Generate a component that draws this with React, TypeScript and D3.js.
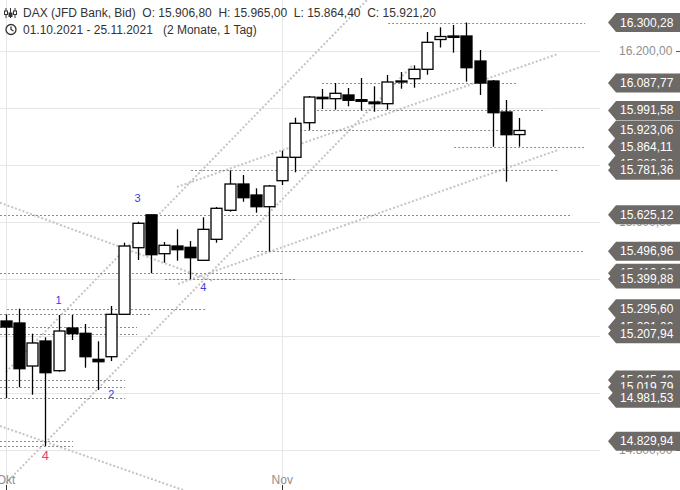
import React, { useEffect, useRef } from 'react';
import * as d3 from 'd3';

// daily candles 01.10.2021 - 25.11.2021 (index 0 = 01.10.)
const opens = [15252.3, 15245.3, 15094.3, 15182.1, 15077.8, 15227.7, 15209.1, 15117.8, 15127.0, 15275.8,
  15509.6, 15625.1, 15488.6, 15515.6, 15511.0, 15465.4, 15539.1, 15641.0, 15733.3, 15694.7,
  15653.6, 15744.9, 15827.0, 15948.5, 16037.7, 16032.8, 16045.8, 16029.3, 16021.2, 16015.2,
  16092.5, 16103.0, 16136.0, 16240.6, 16252.9, 16252.9, 16165.1, 16094.9, 15986.1, 15906.8];
const highs = [15275.7, 15295.6, 15207.9, 15195.1, 15273.4, 15273.4, 15241.8, 15181.0, 15305.0, 15527.2,
  15600.9, 15625.1, 15529.7, 15574.2, 15533.2, 15616.4, 15652.5, 15781.4, 15764.9, 15718.2,
  15729.8, 15850.2, 15966.1, 16042.2, 16066.8, 16087.8, 16070.3, 16105.4, 16076.3, 16116.0,
  16126.5, 16150.0, 16266.9, 16283.4, 16291.5, 16300.3, 16203.8, 16098.4, 16028.2, 15965.0];
const lows = [14981.5, 15019.8, 14993.5, 14813.5, 15074.3, 15185.6, 15088.3, 15010.0, 15111.9, 15275.8,
  15466.5, 15419.8, 15457.0, 15464.0, 15399.9, 15465.4, 15527.2, 15636.0, 15671.1, 15632.5,
  15497.0, 15729.8, 15774.4, 15923.1, 15996.6, 15994.2, 16006.1, 15991.6, 15987.1, 15994.2,
  16067.9, 16071.4, 16117.0, 16212.5, 16194.3, 16092.5, 16045.8, 15864.1, 15741.4, 15864.4];
const closes = [15231.2, 15084.8, 15175.1, 15070.8, 15217.2, 15207.9, 15127.0, 15109.4, 15275.8, 15515.6,
  15595.3, 15485.1, 15518.1, 15502.6, 15474.5, 15574.2, 15648.0, 15733.3, 15685.2, 15653.6,
  15726.3, 15827.0, 15946.4, 16038.7, 16032.8, 16051.7, 16027.2, 16023.6, 16015.2, 16091.4,
  16094.9, 16136.0, 16230.8, 16251.1, 16248.3, 16141.6, 16087.8, 15983.6, 15906.4, 15921.2];

const monthLabels: [string, number][] = [['Okt', 0], ['Nov', 21]];
const gridTicks = [14800, 15000, 15200, 15400, 15600, 15800, 16000, 16200];

// horizontal levels: [value, from index, to index]
const levels: [number, number, number][] = [
  [16300.28, 29.05, 44.03], [16087.77, 24.03, 38.93], [15991.58, 23.04, 41.0], [15923.06, 22.36, 38.33],
  [15864.11, 34.07, 43.95], [15781.36, 14.07, 41.98], [15625.12, -0.46, 43.04], [15496.96, 19.09, 43.95],
  [15419.8, -0.46, 21.06], [15399.88, 12.09, 21.98], [15295.6, 0.08, 15.13], [15275.8, -0.46, 11.1],
  [15231.0, -0.46, 9.96], [15207.94, -0.46, 9.96], [15045.4, -0.46, 9.05], [15019.79, -0.46, 9.05],
  [14981.53, -0.46, 9.05], [14829.94, -0.46, 5.1], [14813.5, -0.46, 5.1],
];

// trend lines: [index1, value1, index2, value2]
const trendLines: [number, number, number, number][] = [
  [0, 15073.2, 27.45, 16379.3],
  [0, 14683.5, 30.94, 16151.1],
  [13.0, 15722.8, 41.96, 16189.7],
  [13.08, 15382.2, 41.96, 15852.7],
  [-0.46, 15667.6, 15.74, 15392.7],
  [-0.46, 14883.6, 13.46, 14659.0],
];

// price tags on the right axis (drawn top to bottom)
const priceTags = [16300.28, 16087.77, 15991.58, 15923.06, 15864.11, 15802.0, 15781.36, 15625.12,
  15496.96, 15419.8, 15399.88, 15295.6, 15231.0, 15207.94, 15045.4, 15019.79, 14981.53, 14829.94];

// wave labels: [text, index, value, pink]
const waveLabels: [string, number, number, boolean][] = [
  ['1', 4, 15326.0, false], ['2', 8, 14996.0, false], ['3', 10, 15685.2, false],
  ['4', 15, 15370.6, false], ['4', 3, 14781.8, true],
];

const App: React.FC = () => {
  const svgRef = useRef<SVGSVGElement>(null);

  useEffect(() => {
    if (!svgRef.current) return;
    const svg = d3.select(svgRef.current);
    svg.selectAll('*').remove();

    const width = 680;
    const height = 490;
    svg.attr('width', width).attr('height', height);
    const font = '"Liberation Sans", Arial, sans-serif';

    const x = d3.scaleLinear().domain([0, 39]).range([6, 519]);
    const y = d3.scaleLinear().domain([14659, 16379.3]).range([height, 0]);
    const de = d3.formatLocale({ decimal: ',', thousands: '.', grouping: [3], currency: ['', ''] });
    const fmt = de.format(',.2f');

    // grid
    svg.append('g').selectAll('line').data(gridTicks).enter().append('line')
      .attr('x1', 0).attr('x2', 600)
      .attr('y1', d => Math.round(y(d)) + 0.5).attr('y2', d => Math.round(y(d)) + 0.5)
      .attr('stroke', '#e6e6e6').attr('stroke-width', 1);
    svg.append('g').selectAll('line').data(monthLabels).enter().append('line')
      .attr('x1', d => Math.round(x(d[1])) + 0.5).attr('x2', d => Math.round(x(d[1])) + 0.5)
      .attr('y1', 0).attr('y2', height)
      .attr('stroke', '#e6e6e6').attr('stroke-width', 1);

    // trend lines
    svg.append('g').selectAll('line').data(trendLines).enter().append('line')
      .attr('x1', d => x(d[0])).attr('y1', d => y(d[1]))
      .attr('x2', d => x(d[2])).attr('y2', d => y(d[3]))
      .attr('stroke', '#c4c4c4').attr('stroke-width', 2).attr('stroke-dasharray', '2,2');

    // horizontal levels
    svg.append('g').selectAll('line').data(levels).enter().append('line')
      .attr('x1', d => Math.max(0, x(d[1]))).attr('x2', d => x(d[2]))
      .attr('y1', d => Math.round(y(d[0])) + 0.5).attr('y2', d => Math.round(y(d[0])) + 0.5)
      .attr('stroke', '#8c8c8c').attr('stroke-width', 1).attr('stroke-dasharray', '2,2');

    // candles
    const idx = d3.range(opens.length);
    const cg = svg.append('g');
    cg.selectAll('line.wick').data(idx).enter().append('line')
      .attr('class', 'wick')
      .attr('x1', i => Math.round(x(i)) + 0.5).attr('x2', i => Math.round(x(i)) + 0.5)
      .attr('y1', i => y(highs[i])).attr('y2', i => y(lows[i]))
      .attr('stroke', '#000').attr('stroke-width', 1.3);
    cg.selectAll('rect').data(idx).enter().append('rect')
      .attr('x', i => Math.round(x(i)) - 5)
      .attr('width', 11)
      .attr('y', i => y(Math.max(opens[i], closes[i])))
      .attr('height', i => Math.max(1, Math.abs(y(opens[i]) - y(closes[i]))))
      .attr('fill', i => closes[i] >= opens[i] ? '#fff' : '#000')
      .attr('stroke', '#000').attr('stroke-width', 1.3);

    // wave labels
    svg.append('g').selectAll('text').data(waveLabels).enter().append('text')
      .attr('x', d => x(d[1])).attr('y', d => y(d[2]))
      .attr('text-anchor', 'middle').attr('dominant-baseline', 'central')
      .attr('font-family', font)
      .attr('font-size', d => d[3] ? '13px' : '11px')
      .attr('fill', d => d[3] ? '#ee3a6a' : '#3c3ce6')
      .text(d => d[0]);

    // right axis labels (mostly covered by tags)
    const axisG = svg.append('g');
    axisG.selectAll('text').data(gridTicks).enter().append('text')
      .attr('x', 619).attr('y', d => y(d))
      .attr('dominant-baseline', 'central')
      .attr('font-family', font).attr('font-size', '12px').attr('fill', '#8f8f8f')
      .text(d => fmt(d));
    axisG.selectAll('line').data(gridTicks).enter().append('line')
      .attr('x1', 676).attr('x2', 680)
      .attr('y1', d => Math.round(y(d)) + 0.5).attr('y2', d => Math.round(y(d)) + 0.5)
      .attr('stroke', '#555');

    // price tags
    const tagG = svg.append('g');
    const th = 9.5;
    priceTags.forEach(v => {
      const ty = y(v);
      const g = tagG.append('g');
      g.append('path')
        .attr('d', `M608,${ty} L616,${ty - th} L680,${ty - th} L680,${ty + th} L616,${ty + th} Z`)
        .attr('fill', '#6d6966');
      g.append('text')
        .attr('x', 620).attr('y', ty)
        .attr('dominant-baseline', 'central')
        .attr('font-family', font).attr('font-size', '12px').attr('fill', '#fff')
        .text(fmt(v));
    });

    // x axis labels
    svg.append('g').selectAll('text').data(monthLabels).enter().append('text')
      .attr('x', d => x(d[1])).attr('y', 484)
      .attr('text-anchor', 'middle')
      .attr('font-family', font).attr('font-size', '12px').attr('fill', '#8f8f8f')
      .text(d => d[0]);
    svg.append('g').selectAll('line').data(monthLabels).enter().append('line')
      .attr('x1', d => Math.round(x(d[1])) + 0.5).attr('x2', d => Math.round(x(d[1])) + 0.5)
      .attr('y1', 485).attr('y2', height)
      .attr('stroke', '#333');

    // header
    const head = svg.append('g');
    const icon = head.append('g').attr('stroke', '#333').attr('stroke-width', 1).attr('fill', 'none');
    [6, 10.5, 15].forEach((cx, k) => {
      icon.append('line').attr('x1', cx).attr('x2', cx).attr('y1', 8).attr('y2', 18);
      icon.append('rect').attr('x', cx - 1.5).attr('y', 11 + (k % 2) * 2).attr('width', 3).attr('height', 3.5)
        .attr('fill', k === 1 ? '#333' : '#fff');
    });
    const clock = head.append('g').attr('stroke', '#333').attr('stroke-width', 1.3).attr('fill', 'none');
    clock.append('circle').attr('cx', 11).attr('cy', 29.5).attr('r', 5);
    clock.append('path').attr('d', 'M11,26.5 L11,29.5 L13.5,31');

    head.append('text')
      .attr('x', 23).attr('y', 17)
      .attr('font-family', font).attr('font-size', '12px').attr('fill', '#333')
      .style('white-space', 'pre')
      .text('DAX (JFD Bank, Bid)  O: 15.906,80  H: 15.965,00  L: 15.864,40  C: 15.921,20');
    head.append('text')
      .attr('x', 23).attr('y', 34)
      .attr('font-family', font).attr('font-size', '12px').attr('fill', '#333')
      .style('white-space', 'pre')
      .text('01.10.2021 - 25.11.2021   (2 Monate, 1 Tag)');
  }, []);

  return (
    <svg ref={svgRef} style={{ position: 'absolute', left: 0, top: 0, background: '#fff' }}></svg>
  );
};

export default App;
